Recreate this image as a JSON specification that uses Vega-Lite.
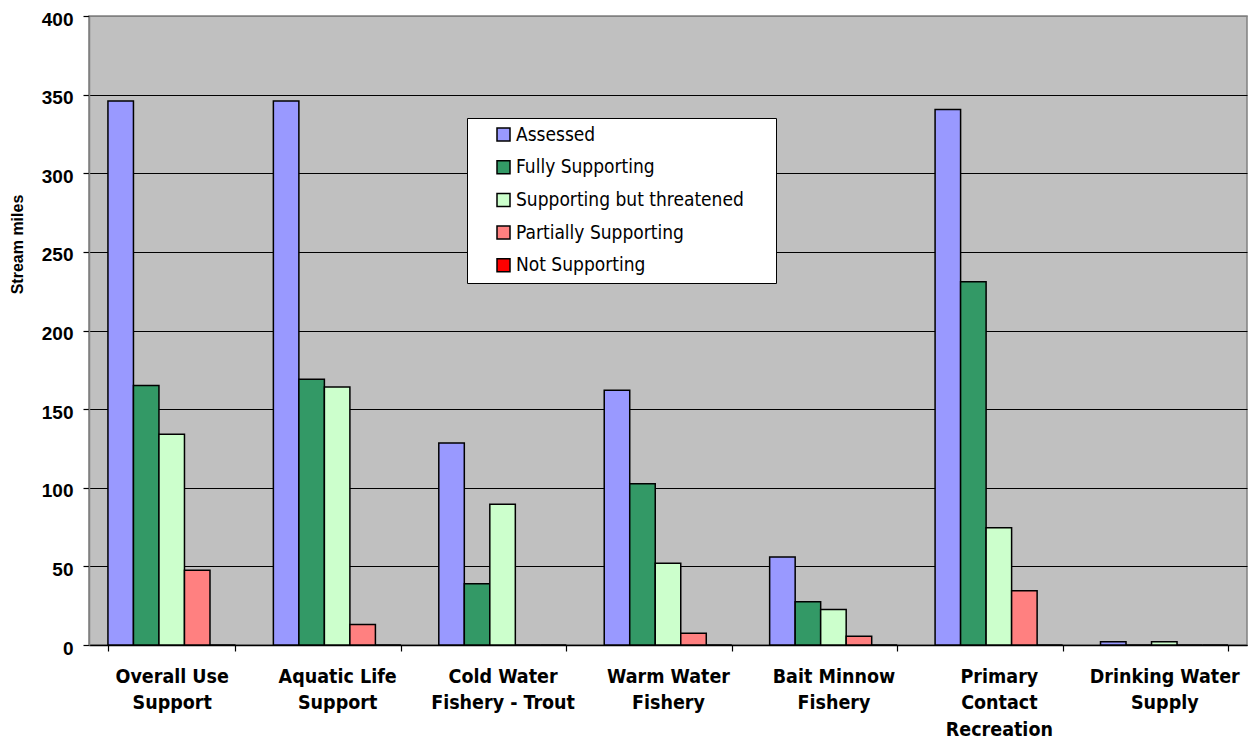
{
  "$schema": "https://vega.github.io/schema/vega-lite/v6.json",
  "width": 1158,
  "height": 629,
  "autosize": {"type": "none"},
  "padding": {"left": 89, "top": 16, "right": 4, "bottom": 98},
  "background": "white",
  "data": {
    "values": [
      {"use": "Overall Use\nSupport", "status": "Assessed", "miles": 346},
      {"use": "Overall Use\nSupport", "status": "Fully Supporting", "miles": 165},
      {"use": "Overall Use\nSupport", "status": "Supporting but threatened", "miles": 134},
      {"use": "Overall Use\nSupport", "status": "Partially Supporting", "miles": 47.5},
      {"use": "Overall Use\nSupport", "status": "Not Supporting", "miles": 0},
      {"use": "Aquatic Life\nSupport", "status": "Assessed", "miles": 346},
      {"use": "Aquatic Life\nSupport", "status": "Fully Supporting", "miles": 169},
      {"use": "Aquatic Life\nSupport", "status": "Supporting but threatened", "miles": 164},
      {"use": "Aquatic Life\nSupport", "status": "Partially Supporting", "miles": 13},
      {"use": "Aquatic Life\nSupport", "status": "Not Supporting", "miles": 0},
      {"use": "Cold Water\nFishery - Trout", "status": "Assessed", "miles": 128.5},
      {"use": "Cold Water\nFishery - Trout", "status": "Fully Supporting", "miles": 39},
      {"use": "Cold Water\nFishery - Trout", "status": "Supporting but threatened", "miles": 89.5},
      {"use": "Cold Water\nFishery - Trout", "status": "Partially Supporting", "miles": 0},
      {"use": "Cold Water\nFishery - Trout", "status": "Not Supporting", "miles": 0},
      {"use": "Warm Water\nFishery", "status": "Assessed", "miles": 162},
      {"use": "Warm Water\nFishery", "status": "Fully Supporting", "miles": 102.5},
      {"use": "Warm Water\nFishery", "status": "Supporting but threatened", "miles": 52},
      {"use": "Warm Water\nFishery", "status": "Partially Supporting", "miles": 7.5},
      {"use": "Warm Water\nFishery", "status": "Not Supporting", "miles": 0},
      {"use": "Bait Minnow\nFishery", "status": "Assessed", "miles": 56},
      {"use": "Bait Minnow\nFishery", "status": "Fully Supporting", "miles": 27.5},
      {"use": "Bait Minnow\nFishery", "status": "Supporting but threatened", "miles": 22.5},
      {"use": "Bait Minnow\nFishery", "status": "Partially Supporting", "miles": 5.5},
      {"use": "Bait Minnow\nFishery", "status": "Not Supporting", "miles": 0},
      {"use": "Primary\nContact\nRecreation", "status": "Assessed", "miles": 340.5},
      {"use": "Primary\nContact\nRecreation", "status": "Fully Supporting", "miles": 231},
      {"use": "Primary\nContact\nRecreation", "status": "Supporting but threatened", "miles": 74.5},
      {"use": "Primary\nContact\nRecreation", "status": "Partially Supporting", "miles": 34.5},
      {"use": "Primary\nContact\nRecreation", "status": "Not Supporting", "miles": 0},
      {"use": "Drinking Water\nSupply", "status": "Assessed", "miles": 2},
      {"use": "Drinking Water\nSupply", "status": "Fully Supporting", "miles": 0},
      {"use": "Drinking Water\nSupply", "status": "Supporting but threatened", "miles": 2},
      {"use": "Drinking Water\nSupply", "status": "Partially Supporting", "miles": 0},
      {"use": "Drinking Water\nSupply", "status": "Not Supporting", "miles": 0}
    ]
  },
  "mark": {"type": "bar", "stroke": "black", "strokeWidth": 1.5},
  "encoding": {
    "x": {
      "field": "use",
      "type": "nominal",
      "sort": null,
      "scale": {"paddingInner": 0.229, "paddingOuter": 0.1145},
      "axis": {
        "title": null,
        "labelAngle": 0,
        "labelExpr": "split(datum.label, '\\n')",
        "labelFont": "DejaVu Sans Condensed",
        "labelFontWeight": "bold",
        "labelFontSize": 19.5,
        "labelLineHeight": 26.5,
        "labelColor": "black",
        "labelBaseline": "top",
        "labelPadding": 16,
        "labelLimit": 300,
        "tickBand": "extent",
        "tickColor": "black",
        "tickSize": 6,
        "tickWidth": 1.2,
        "domainColor": "black",
        "domainWidth": 1.5
      }
    },
    "xOffset": {
      "field": "status",
      "type": "nominal",
      "scale": {
        "domain": ["Assessed", "Fully Supporting", "Supporting but threatened", "Partially Supporting", "Not Supporting"],
        "paddingInner": 0,
        "paddingOuter": 0
      }
    },
    "y": {
      "field": "miles",
      "type": "quantitative",
      "scale": {"domain": [0, 400], "nice": false},
      "axis": {
        "title": "Stream miles",
        "titleFont": "Liberation Sans",
        "titleFontSize": 16,
        "titleFontWeight": "bold",
        "titleColor": "black",
        "titleAngle": -90,
        "titleAlign": "center",
        "titleBaseline": "middle",
        "titleX": -72,
        "titleY": 228,
        "values": [0, 50, 100, 150, 200, 250, 300, 350, 400],
        "labelFont": "Liberation Sans",
        "labelFontWeight": "bold",
        "labelFontSize": 19,
        "labelColor": "black",
        "labelPadding": 10,
        "labelOffset": 3,
        "tickColor": "black",
        "tickSize": 6,
        "tickWidth": 1.2,
        "domainColor": "#808080",
        "domainWidth": 1.5,
        "grid": true,
        "gridColor": {"condition": {"test": "datum.value == 400", "value": "#808080"}, "value": "black"},
        "gridWidth": 1.2
      }
    },
    "color": {
      "field": "status",
      "type": "nominal",
      "scale": {
        "domain": ["Assessed", "Fully Supporting", "Supporting but threatened", "Partially Supporting", "Not Supporting"],
        "range": ["#9999FF", "#339966", "#CCFFCC", "#FF8080", "#FF0000"]
      },
      "legend": {
        "orient": "none",
        "legendX": 378,
        "legendY": 102,
        "title": null,
        "fillColor": "white",
        "strokeColor": "black",
        "padding": 7,
        "symbolType": "square",
        "symbolSize": 169,
        "symbolStrokeColor": "black",
        "symbolStrokeWidth": 1.5,
        "symbolOffset": 20,
        "labelFont": "DejaVu Sans Condensed",
        "labelFontSize": 19,
        "labelColor": "black",
        "labelOffset": 3,
        "labelLimit": 400,
        "labelExpr": "datum.label + '\u2800\u2800'",
        "rowPadding": 12.7
      }
    }
  },
  "config": {
    "view": {"fill": "#C0C0C0", "stroke": "#808080", "strokeWidth": 1.5}
  }
}
